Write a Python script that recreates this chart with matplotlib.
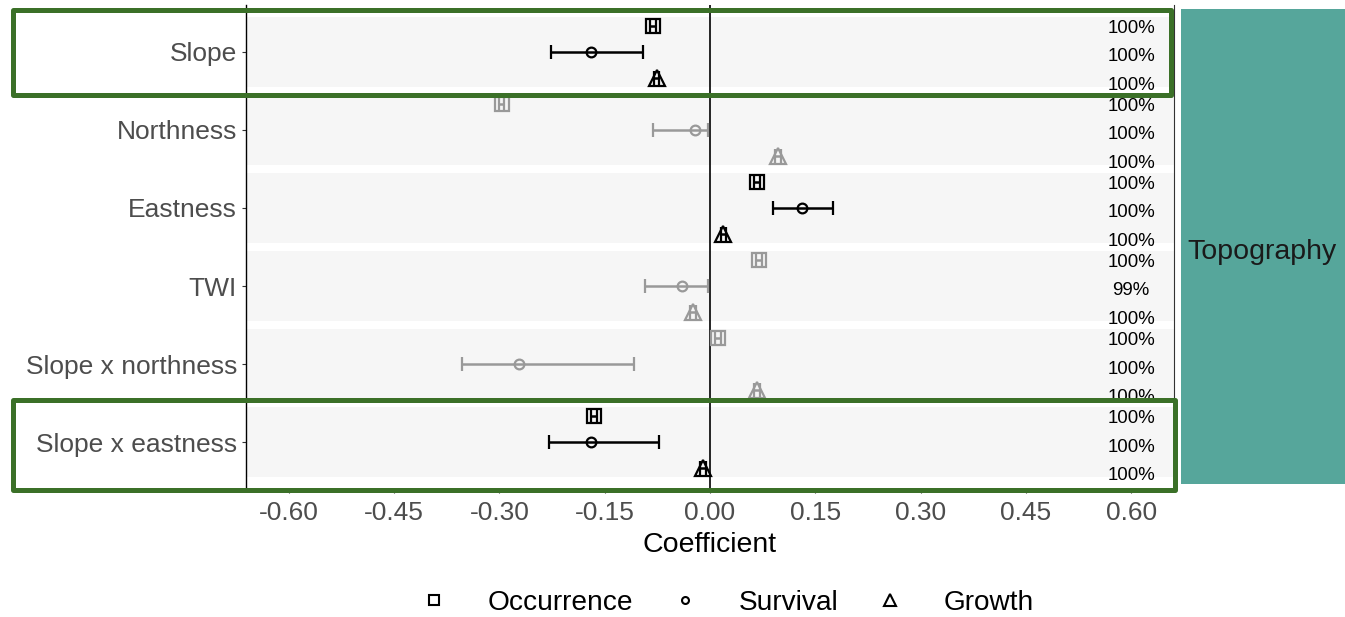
import matplotlib
matplotlib.use("Agg")
import matplotlib.pyplot as plt
from matplotlib.lines import Line2D
from matplotlib.patches import Rectangle
import numpy as np

plt.rcParams["font.family"] = ["Liberation Sans", "DejaVu Sans"]
plt.rcParams["axes.unicode_minus"] = False

# Predictors (top to bottom)
categories = ["Slope", "Northness", "Eastness", "TWI", "Slope x northness", "Slope x eastness"]
significant = [True, False, True, False, False, True]

# Occurrence model
occ_coef = [-0.081, -0.297, 0.067, 0.070, 0.011, -0.165]
occ_lo = [-0.085, -0.301, 0.063, 0.066, 0.007, -0.169]
occ_hi = [-0.077, -0.293, 0.071, 0.074, 0.015, -0.161]
occ_pct = ["100%", "100%", "100%", "100%", "100%", "100%"]

# Survival model
surv_coef = [-0.170, -0.021, 0.131, -0.040, -0.272, -0.169]
surv_lo = [-0.226, -0.081, 0.090, -0.093, -0.354, -0.229]
surv_hi = [-0.095, -0.003, 0.175, -0.003, -0.108, -0.073]
surv_pct = ["100%", "100%", "100%", "99%", "100%", "100%"]

# Growth model
grow_coef = [-0.076, 0.097, 0.019, -0.024, 0.067, -0.010]
grow_lo = [-0.080, 0.093, 0.015, -0.028, 0.063, -0.014]
grow_hi = [-0.072, 0.101, 0.023, -0.020, 0.071, -0.006]
grow_pct = ["100%", "100%", "100%", "100%", "100%", "100%"]

x_ticks = [-0.60, -0.45, -0.30, -0.15, 0.00, 0.15, 0.30, 0.45, 0.60]
legend_labels = ["Occurrence", "Survival", "Growth"]
facet_label = "Topography"

W, H = 1345, 617
fig = plt.figure(figsize=(W / 100, H / 100), dpi=100)
ax = fig.add_axes([246 / W, 1 - 489 / H, (1174 - 246) / W, (489 - 5) / H])

n = len(categories)
pos = np.arange(n)

for p in pos:
    ax.axhspan(p - 0.45, p + 0.45, color="#f6f6f6", lw=0, zorder=0)
ax.axvline(0, color="black", lw=1.2, zorder=1)

series = [
    (occ_coef, occ_lo, occ_hi, occ_pct, "s", 10, -0.33),
    (surv_coef, surv_lo, surv_hi, surv_pct, "o", 7, 0.0),
    (grow_coef, grow_lo, grow_hi, grow_pct, "^", 11.5, 0.33),
]
label_off = {-0.33: -0.367, 0.0: 0.0, 0.33: 0.367}

for coef, lo, hi, pct, marker, ms, off in series:
    for i in range(n):
        col = "black" if significant[i] else "#999999"
        ax.errorbar(coef[i], pos[i] + off,
                    xerr=[[coef[i] - lo[i]], [hi[i] - coef[i]]],
                    fmt=marker, ms=ms, mfc="none", mec=col, mew=1.6,
                    ecolor=col, elinewidth=1.8, capsize=5, capthick=1.8, zorder=3)
        ax.text(0.60, pos[i] + 0.063 + label_off[off], pct[i],
                ha="center", va="center", fontsize=13.4, color="black", zorder=4)

ax.set_xlim(-0.661, 0.661)
ax.set_ylim(n - 1 + 0.6, -0.6)
ax.set_yticks(pos)
ax.set_yticklabels(categories, fontsize=19, color="#4d4d4d")
ax.set_xticks(x_ticks)
ax.set_xticklabels([f"{t:.2f}" for t in x_ticks], fontsize=19, color="#4d4d4d")
ax.tick_params(axis="y", length=3, width=0.8, color="#333333", pad=3.5)
ax.tick_params(axis="x", length=3, width=0.8, color="#333333", pad=6)
ax.set_xlabel("Coefficient", fontsize=20.5, color="black", labelpad=5)
ax.set_facecolor("white")
ax.spines["top"].set_visible(False)
ax.spines["bottom"].set_visible(False)
ax.spines["right"].set_color("#333333")
ax.spines["right"].set_linewidth(0.8)
ax.spines["left"].set_color("black")
ax.spines["left"].set_linewidth(1.0)

# Facet strip on the right
fig.add_artist(Rectangle((1181 / W, 1 - 484 / H), (W - 1181) / W + 0.01, 475 / H,
                         transform=fig.transFigure, facecolor="#56a69b",
                         edgecolor="none", zorder=1))
fig.text(1262 / W, 1 - 252 / H, facet_label, ha="center", va="center",
         fontsize=20.5, color="#1a1a1a")

# Legend
handles = [
    Line2D([], [], marker="s", ls="none", mfc="none", mec="black", mew=1.5, ms=7.5),
    Line2D([], [], marker="o", ls="none", mfc="none", mec="black", mew=1.5, ms=5),
    Line2D([], [], marker="^", ls="none", mfc="none", mec="black", mew=1.5, ms=8),
]
fig.legend(handles, legend_labels, loc="center", bbox_to_anchor=(727 / W, 1 - 603 / H),
           ncol=3, frameon=False, fontsize=20.2, handlelength=1.0,
           handletextpad=1.4, columnspacing=1.35)

# Highlight boxes around Slope and Slope x eastness
def box(x0, y0, x1, y1):
    fig.add_artist(Rectangle((x0 / W, 1 - y1 / H), (x1 - x0) / W, (y1 - y0) / H,
                             transform=fig.transFigure, fill=False,
                             edgecolor="#3b7028", lw=3.6, joinstyle="round",
                             zorder=10))

box(12.5, 10, 1171, 94.5)
box(12.5, 400, 1174.5, 490)

fig.savefig("out.png", dpi=100)
